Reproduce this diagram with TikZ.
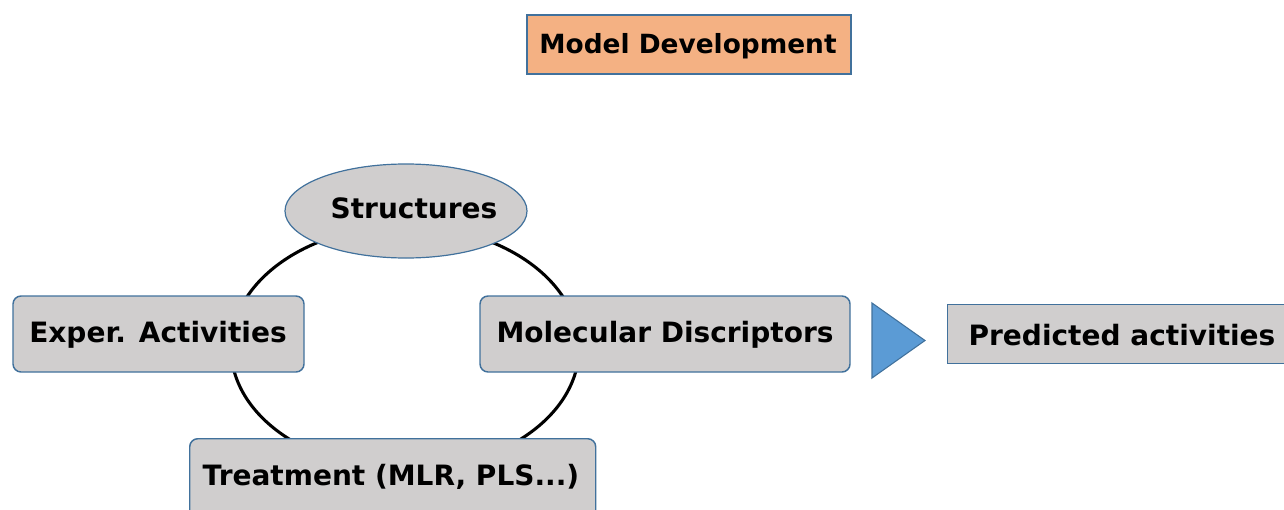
\documentclass[tikz,border=0pt]{standalone}
\usepackage{fontspec}
\setmainfont{DejaVu Sans}
\usetikzlibrary{shapes.geometric}
\definecolor{boxgray}{HTML}{D0CECE}
\definecolor{boxline}{HTML}{41719C}
\definecolor{titlefill}{HTML}{F4B183}
\definecolor{arrowfill}{HTML}{5B9BD5}
\tikzset{
  lbl/.style={font=\bfseries\fontsize{21}{24}\selectfont, text=black, inner sep=0pt},
  graybox/.style={draw=boxline, line width=1.1pt, fill=boxgray, rounded corners=6pt, inner sep=0pt},
  plainbox/.style={draw=boxline, line width=1.1pt, fill=boxgray, inner sep=0pt},
}
\begin{document}
\begin{tikzpicture}[x=0.75pt,y=-0.75pt]
\useasboundingbox (0,0) rectangle (1284,510);
\clip (0,0) rectangle (1284,510);
% cycle
\draw[line width=2.3pt, black] (405,348) ellipse [x radius=174, y radius=122];
% title
\node[draw=boxline, line width=0.8pt, fill=titlefill, inner sep=0pt, minimum width=324*0.75pt, minimum height=59*0.75pt] (title) at (689,44.5) {};
\node[lbl, font=\bfseries\fontsize{19.8}{23}\selectfont] (titletext) at (688,46) {Model Development};
% structures
\node[ellipse, draw=boxline, line width=0.9pt, fill=boxgray, inner sep=0pt, minimum width=242*0.75pt, minimum height=94*0.75pt] (struct) at (406,211) {};
\node[lbl] (structtext) at (414,208) {Structures};
% exper
\node[graybox, minimum width=291*0.75pt, minimum height=76*0.75pt] (exper) at (158.5,334) {};
\node[lbl] (expertext) at (158,335) {Exper. Activities};
% molecular
\node[graybox, minimum width=370*0.75pt, minimum height=76*0.75pt] (molec) at (665,334) {};
\node[lbl] (molectext) at (665,335) {Molecular Discriptors};
% treatment
\node[graybox, minimum width=406*0.75pt, minimum height=90*0.75pt, anchor=north west] (treat) at (189,438) {};
\node[lbl] (treattext) at (391,477) {Treatment (MLR, PLS...)};
% arrow triangle
\coordinate (ta) at (872,303);
\coordinate (tb) at (872,378);
\coordinate (tc) at (925,340.5);
\draw[draw=boxline, line width=0.8pt, fill=arrowfill] (ta) -- (tc) -- (tb) -- cycle;
% predicted
\node[plainbox, minimum width=360*0.75pt, minimum height=59*0.75pt, anchor=north west] (pred) at (947,304) {};
\node[lbl] (predtext) at (1122,335) {Predicted activities};
\end{tikzpicture}
\end{document}
